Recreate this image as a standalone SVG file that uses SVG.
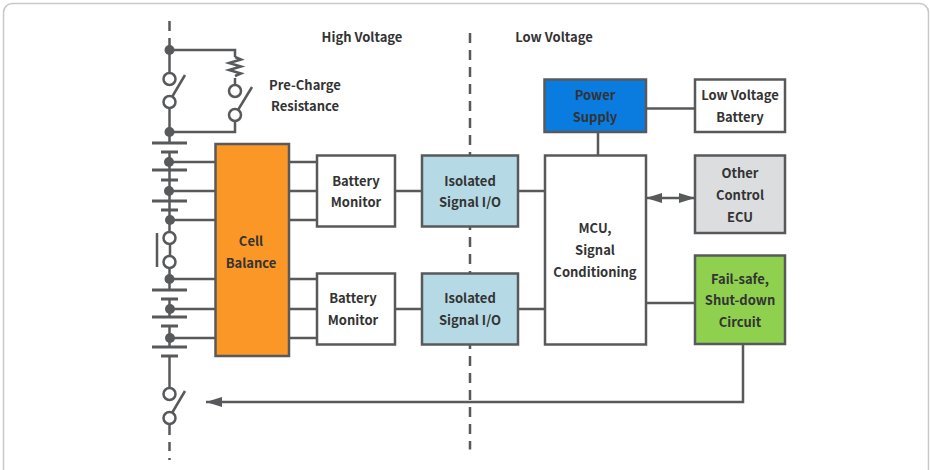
<svg xmlns="http://www.w3.org/2000/svg" width="930" height="470" viewBox="0 0 930 470">
<style>
.box{stroke:#58595b;stroke-width:2.5}
.w{fill:#fff}
text{font-family:"Noto Sans CJK SC","Noto Sans",sans-serif;font-size:13px;font-weight:700;fill:#333;text-anchor:middle}
.l{fill:none;stroke:#58595b;stroke-width:2.5}
.d{fill:#58595b;stroke:none}
.o{fill:#fff;stroke:#58595b;stroke-width:2.5}
.p{fill:none;stroke:#58595b;stroke-width:3}
</style>
<defs>
<marker id="a" viewBox="0 0 16 10" refX="16" refY="5" markerWidth="16" markerHeight="10" markerUnits="userSpaceOnUse" orient="auto-start-reverse"><path d="M0 0L16 5L0 10Z" fill="#58595b"/></marker>
</defs>
<rect x="3.500" y="3.500" width="925" height="480" rx="9" fill="#fff" stroke="#c8c8c8" stroke-width="1.500"/>
<g id="connectors">
<path class="l" d="M169.500 21V31M169.500 38V73M169.500 108V143M169.500 50H235V57M235 78V85M235 121V132H169.500M169.500 152V232M170 244V256M169.500 268V290M169.500 299V317M169.500 326V347M169.500 356V388M169.500 424V435M169.500 442V451M169.500 458V460"/>
<path class="l" d="M235 57l6 2.500l-12 3.500l12 3.500l-12 3.500l12 3.500l-6 2.500"/>
<path class="l" d="M172 97L185 75M238 110L252 87M172 413L185 391M157 233V267"/>
<path class="p" d="M152 143H187M161 152H178M152 170H187M161 180H178M152 201H187M161 210H178M152 290H187M161 299H178M152 317H187M161 326H178M152 347H187M161 356H178"/>
<path class="l" d="M169.500 162H215M169.500 191H215M169.500 220H215M169.500 279H215M169.500 309H215M169.500 338H215"/>
<path class="l" d="M289 162H317M289 191H317M289 220H317M289 279H317M289 309H317M289 338H317"/>
<path class="l" d="M395 191H422M395 309H422M518 191H545M518 309H545M598 132V155M646 303H695M646 108.500H695"/>
<path class="l" d="M470 33V449.500" stroke-dasharray="10 7"/>
<path class="l" d="M646 198H695" marker-start="url(#a)" marker-end="url(#a)"/>
<path class="l" d="M743 344V402H206" marker-end="url(#a)"/>
<g>
<circle class="d" cx="169.500" cy="50" r="5"/><circle class="d" cx="169.500" cy="132" r="5"/>
<circle class="d" cx="169" cy="162" r="5"/><circle class="d" cx="169" cy="191" r="5"/><circle class="d" cx="170" cy="220" r="5"/>
<circle class="d" cx="169.500" cy="279" r="5"/><circle class="d" cx="170" cy="309" r="5"/><circle class="d" cx="170" cy="338" r="5"/>
<circle class="o" cx="169.500" cy="79" r="6"/><circle class="o" cx="169.500" cy="102" r="6"/>
<circle class="o" cx="235" cy="91" r="6"/><circle class="o" cx="235" cy="115" r="6"/>
<circle class="o" cx="169.500" cy="238" r="6"/><circle class="o" cx="169.500" cy="262" r="6"/>
<circle class="o" cx="169.500" cy="394" r="6"/><circle class="o" cx="169.500" cy="418" r="6"/>
</g>
</g>
<g id="cell-balance"><rect class="box" x="215.500" y="144" width="73.500" height="212" fill="#fb9726"/><text x="251" y="246">Cell</text><text x="251" y="268">Balance</text></g>
<g id="monitor-1"><rect class="box w" x="317" y="155.500" width="78" height="71"/><text x="356" y="186">Battery</text><text x="356" y="207">Monitor</text></g>
<g id="monitor-2"><rect class="box w" x="317" y="273.500" width="78" height="71"/><text x="353" y="303">Battery</text><text x="353" y="325">Monitor</text></g>
<g id="isolated-1"><rect class="box" x="422" y="155.500" width="96" height="71" fill="#b5dae6"/><text x="470" y="186">Isolated</text><text x="470" y="207">Signal I/O</text></g>
<g id="isolated-2"><rect class="box" x="422" y="273.500" width="96" height="71" fill="#b5dae6"/><text x="470" y="303">Isolated</text><text x="470" y="325">Signal I/O</text></g>
<g id="mcu"><rect class="box w" x="545" y="155.500" width="101" height="189"/><text x="595" y="233">MCU,</text><text x="595" y="255">Signal</text><text x="595" y="277">Conditioning</text></g>
<g id="power-supply"><rect class="box" x="544.500" y="79.500" width="101.500" height="52.500" fill="#0a7ce0"/><text x="595" y="100">Power</text><text x="595" y="122">Supply</text></g>
<g id="lv-battery"><rect class="box w" x="695" y="79.500" width="90" height="52.500"/><text x="740" y="100">Low Voltage</text><text x="740" y="122">Battery</text></g>
<g id="other-ecu"><rect class="box" x="695" y="155.500" width="90" height="77.500" fill="#dcdddf"/><text x="740" y="178">Other</text><text x="740" y="200">Control</text><text x="740" y="222">ECU</text></g>
<g id="fail-safe"><rect class="box" x="695" y="255.500" width="90" height="88.500" fill="#8fd14f"/><text x="740" y="284">Fail-safe,</text><text x="740" y="305">Shut-down</text><text x="740" y="327">Circuit</text></g>
<g id="labels"><text x="362" y="42">High Voltage</text><text x="554" y="42">Low Voltage</text><text x="305" y="90">Pre-Charge</text><text x="305" y="111">Resistance</text></g>
</svg>
